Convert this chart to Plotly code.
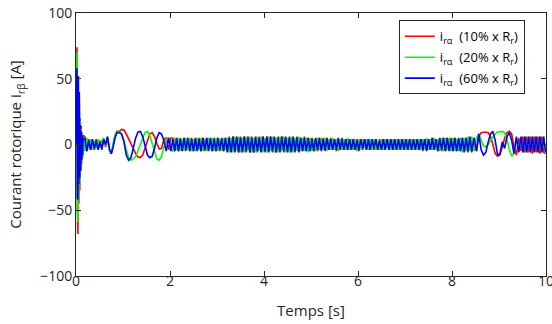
import numpy as np
import plotly.graph_objects as go

# --- time grid (sampling positions, s) ---
t_seg_a = np.round(np.arange(0.00, 0.155, 0.01), 2)   # 16
t_seg_b = np.round(np.arange(0.19, 0.885, 0.04), 2)   # 18
t_seg_c = np.round(np.arange(0.92, 2.045, 0.05), 2)   # 23
t_seg_d = np.round(np.arange(2.06, 8.435, 0.04), 2)   # 160
t_seg_e = np.round(np.arange(8.47, 9.495, 0.05), 2)   # 21
t_seg_f = np.round(np.arange(9.51, 10.005, 0.04), 2)  # 13
time_s = np.concatenate([t_seg_a, t_seg_b, t_seg_c, t_seg_d, t_seg_e, t_seg_f])

# --- values (A) ---
red_10 = [
    # start-up burst
    0, 45, 74, -50, -68, 40, -45, 30, -35, 20, -20, 14, -15, 9, -10, 7,
    6, -5, 4, -4, 3, -4, 4, -3, 3, -4, 4, -2, 5, -4, -7, -1, 6, 10,
    # slow swings
    10, 11.5, 11, 8, 4, 0, -4, -7, -9.5, -10, -8, -3, 3, 8, 9, 6, 1, -3.5, -3, 4, 5, -4, 5,
    # steady oscillation
    5, -5, 4, -5, 5, -4, 5, -5, 4, -5, 5, -5, 4, -4, 5, -5,
    5, -5, 5, -4, 4, -5, 5, -5, 5, -5, 4, -5, 5, -5, 6, -5,
    6, -6, 5, -6, 6, -5, 6, -6, 5, -6, 6, -6, 5, -6, 6, -5,
    6, -6, 6, -5, 6, -6, 5, -6, 6, -5, 6, -6, 5, -5, 6, -5,
    5, -6, 6, -5, 5, -5, 6, -5, 5, -5, 5, -5, 4, -5, 5, -4,
    5, -5, 4, -4, 5, -4, 4, -5, 4, -4, 5, -4, 4, -4, 4, -4,
    4, -4, 4, -5, 4, -4, 4, -4, 4, -4, 3, -4, 4, -4, 4, -4,
    4, -4, 4, -4, 3, -4, 4, -4, 4, -3, 4, -4, 4, -4, 4, -4,
    4, -4, 4, -4, 4, -5, 4, -4, 4, -4, 5, -4, 4, -5, 4, -5,
    5, -5, 5, -4, 5, -5, 5, -5, 4, -5, 5, -5, 5, -6, 5, -6,
    # second slow swings
    5, -5, 6, 9, 9.5, 9.5, 9, 6, 0, -7, -9, -8, -2, 5, 9, 10, 8, -2, -8, 5, -5,
    6, -6, 6, -6, 6, -7, 6, -6, 6, -7, 6, -6, -7,
]
green_20 = [
    0, 40, 70, -45, -59, 50, -40, 35, -30, 18, -18, 12, -13, 8, -9, 6,
    -5, 5, -3, 4, -4, 3, -3, 4, -3, 3, 5, -1, 6, -5, -7, 1, 7, 10,
    10, 8, 3, -4, -10, -12, -11, -9, -5, 0, 5, 9, 10, 7, 1, -6, -11, -12, -9, -2, 4, 5, -4,
    -5, 5, -4, 5, -5, 4, -5, 5, -4, 5, -5, 4, -5, 5, -4, 5,
    -5, 4, -5, 5, -4, 5, -5, 5, -5, 4, -5, 5, -4, 5, -6, 5,
    -6, 6, -5, 6, -6, 5, -6, 6, -5, 6, -6, 5, -6, 6, -5, 6,
    -6, 5, -6, 6, -5, 6, -6, 5, -6, 6, -5, 6, -6, 5, -6, 6,
    -6, 5, -5, 6, -5, 5, -5, 5, -6, 5, -5, 4, -5, 5, -4, 5,
    -4, 5, -5, 4, -4, 5, -4, 4, -5, 4, -4, 4, -4, 5, -4, 4,
    -4, 4, -5, 4, -4, 4, -3, 4, -4, 4, -4, 4, -4, 3, -4, 4,
    -4, 4, -3, 4, -4, 4, -4, 4, -4, 4, -4, 4, -4, 4, -4, 4,
    -4, 4, -4, 4, -4, 4, -4, 5, -4, 4, -4, 5, -4, 4, -5, 5,
    -5, 5, -4, 5, -5, 5, -5, 4, -5, 5, -6, 5, -5, 6, -5, 6,
    -5, 5, 8, 4, -1, -2, 0, 3, 6, 8, 9.5, 10, 10, 9, 4, -4, -9, -6, 4, -5, 5,
    -6, 6, -6, 6, -6, 6, -5, 6, -6, 6, -6, 6, -6,
]
blue_60 = [
    0, 35, 58, -40, -42, 52, -30, 40, -25, 15, -20, 10, -12, 7, -8, 5,
    4, -5, 3, -4, 4, -3, 3, -4, 2, -3, 4, 0, 6, -3, -7, -2, 5, 9,
    9, 8, 2, -8, -12, -10, -3, 5, 9.5, 10, 6, -2, -8, -10, -9, -3, 5, 9, 8, 3, -5, 5, -5,
    4, -5, 5, -5, 4, -5, 5, -4, 5, -5, 4, -5, 5, -5, 4, -5,
    5, -4, 5, -5, 5, -5, 4, -5, 5, -4, 5, -5, 5, -6, 5, -6,
    6, -5, 6, -6, 5, -6, 6, -5, 6, -6, 5, -6, 6, -5, 5, -6,
    6, -5, 6, -6, 6, -5, 6, -6, 5, -6, 6, -5, 6, -6, 5, -6,
    6, -5, 5, -6, 5, -5, 5, -5, 5, -5, 4, -5, 5, -4, 5, -5,
    4, -4, 5, -4, 4, -4, 4, -4, 5, -4, 4, -4, 4, -4, 4, -4,
    4, -4, 3, -4, 4, -3, 4, -4, 4, -4, 4, -3, 4, -4, 3, -4,
    4, -4, 4, -4, 4, -4, 4, -4, 4, -4, 4, -4, 4, -4, 4, -4,
    4, -4, 4, -4, 4, -4, 4, -5, 4, -4, 5, -4, 4, -5, 5, -4,
    5, -5, 5, -5, 4, -5, 5, -5, 5, -5, 5, -6, 5, -5, 6, -5,
    5, -5, 8, -4, -8, -6, 2, 8, 10, 3, -8, -7, 2, -3, 6, 9, 3, -7, 6, -6, 6,
    -6, 6, -6, 6, -6, 6, -6, 6, -6, 6, -6, 6, -6,
]

series_names = [
    "i<sub>rα</sub>  (10% x R<sub>r</sub>)",
    "i<sub>rα</sub>  (20% x R<sub>r</sub>)",
    "i<sub>rα</sub>  (60% x R<sub>r</sub>)",
]
series_colors = ["#ff0000", "#00ff00", "#0000ff"]

x_ticks = [0, 2, 4, 6, 8, 10]
y_ticks = [-100, -50, 0, 50, 100]

assert len(time_s) == len(red_10) == len(green_20) == len(blue_60), (
    len(time_s), len(red_10), len(green_20), len(blue_60))

fig = go.Figure()
for i, (name, vals, col) in enumerate(zip(series_names, [red_10, green_20, blue_60], series_colors)):
    fig.add_trace(go.Scatter(x=time_s, y=vals, mode="lines", name=name,
                             legendgroup=f"g{i}",
                             line=dict(color=col, width=1.6)))

axis_col = "#262626"
font_family = "Open Sans"
fig.update_layout(
    width=552, height=324,
    margin=dict(l=76, r=6, t=13, b=48, autoexpand=False),
    paper_bgcolor="white", plot_bgcolor="white",
    font=dict(family=font_family, size=14, color=axis_col),
    showlegend=True,
    legend=dict(x=0.955, y=0.972, xanchor="right", yanchor="top",
                bgcolor="white", bordercolor=axis_col, borderwidth=1,
                font=dict(family=font_family, size=13, color="black"),
                tracegroupgap=1),
)
fig.update_xaxes(range=[0, 10], tickvals=x_ticks, ticks="inside", ticklen=5,
                 tickcolor=axis_col, showline=True, linecolor=axis_col, linewidth=1,
                 mirror="ticks", showgrid=False, zeroline=False, automargin=False,
                 ticklabeloverflow="allow", tickfont=dict(size=14),
                 ticklabelstandoff=-8,
                 title=dict(text="Temps [s]", font=dict(size=15), standoff=16))
fig.update_yaxes(range=[-100, 100], tickvals=y_ticks, ticks="inside", ticklen=5,
                 tickcolor=axis_col, showline=True, linecolor=axis_col, linewidth=1,
                 mirror="ticks", showgrid=False, zeroline=False, automargin=False,
                 ticklabeloverflow="allow", tickfont=dict(size=14),
                 title=dict(text="Courant rotorique i<sub>rβ</sub> [A]", font=dict(size=15),
                            standoff=14))

fig.write_html("out.html", config={"displayModeBar": False},
               post_script="document.body.style.margin='0';document.body.style.padding='0';")
